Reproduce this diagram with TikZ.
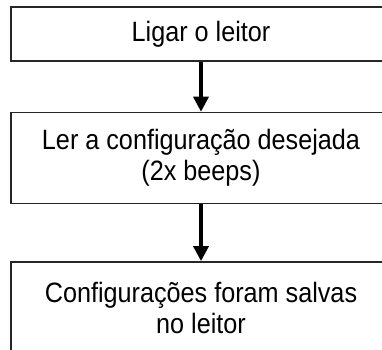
\documentclass[tikz,border=0pt]{standalone}
\usepackage{fontspec}
\setmainfont[FakeStretch=0.9]{Liberation Sans}
\usetikzlibrary{positioning, arrows.meta}

\begin{document}
\begin{tikzpicture}[
    x=1pt, y=-1pt,
    node distance=50pt,
    stage/.style={rectangle, draw=black!85, line width=1.4pt, minimum width=380pt, inner sep=0pt, align=center, font=\fontsize{28}{31}\selectfont},
    flow/.style={-{Triangle[width=15pt, length=15pt]}, line width=3.4pt},
]
\useasboundingbox (0,0) rectangle (382,349);
\clip (0,0) rectangle (382,349);

% Steps
\node[stage, minimum height=54pt] (power) at (201,34) {Ligar o leitor};
\node[stage, minimum height=91pt, below=50pt of power] (read) {Ler a configuração desejada\\(2x beeps)};
\node[stage, minimum height=92pt, below=57pt of read] (saved) {Configurações foram salvas\\no leitor};

% Arrows
\draw[flow] (power) -- (read);
\draw[flow] (read) -- (saved);
\end{tikzpicture}
\end{document}
